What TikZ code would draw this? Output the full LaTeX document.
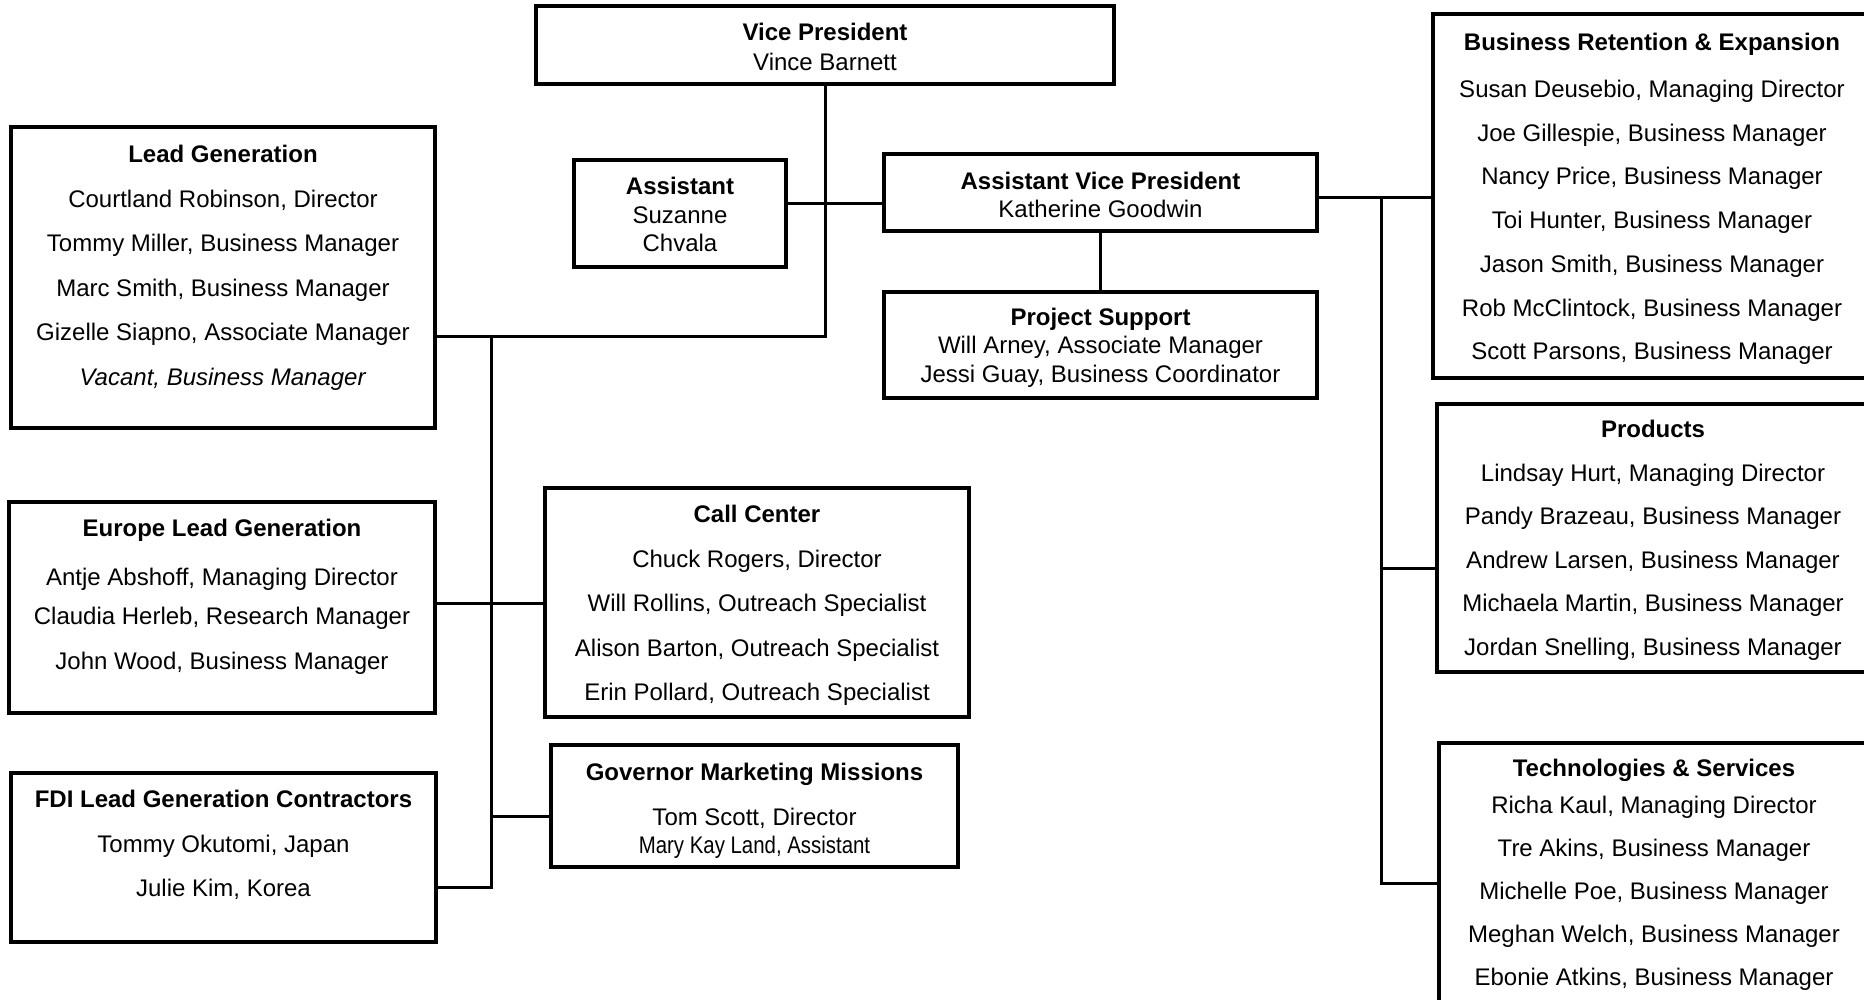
\documentclass[tikz,border=0pt]{standalone}
\usepackage{fontspec}
\setmainfont{Liberation Sans}
\usepackage{graphicx}

\begin{document}
        \begin{tikzpicture}[x=1pt, y=-1pt,
            box/.style={draw, line width=3.3pt, inner sep=0pt, align=center, font=\fontsize{24}{44.5}\selectfont},
            topbox/.style={box, font=\fontsize{24}{28.5}\selectfont},
            wire/.style={line width=3pt}]
            \useasboundingbox (0,0) rectangle (1864,1000);
            \clip (0,0) rectangle (1864,1000);
            \node[topbox, font=\fontsize{24}{30}\selectfont, minimum width=578pt, minimum height=78pt] (vp) at (825,45) {\rule{0pt}{22pt}\textbf{Vice President}\\Vince Barnett};
            \node[topbox, minimum width=212pt, minimum height=107pt] (asst) at (680,213.5) {\rule{0pt}{20pt}\textbf{Assistant}\\Suzanne\\Chvala};
            \node[topbox, minimum width=433pt, minimum height=77pt] (avp) at (1100.5,192.5) {\rule{0pt}{22pt}\textbf{Assistant Vice President}\\Katherine Goodwin};
            \node[topbox, minimum width=433pt, minimum height=106pt] (proj) at (1100.5,345) {\rule{0pt}{22pt}\textbf{Project Support}\\Will Arney, Associate Manager\\Jessi Guay, Business Coordinator};
            \node[box, minimum width=424pt, minimum height=301pt] (lead) at (223,277.5) {\textbf{Lead Generation}\\Courtland Robinson, Director\\Tommy Miller, Business Manager\\Marc Smith, Business Manager\\Gizelle Siapno, Associate Manager\\\textit{Vacant, Business Manager}\rule[-24pt]{0pt}{24pt}};
            \node[box, minimum width=426pt, minimum height=211pt] (euro) at (222,607.5) {\textbf{Europe Lead Generation}\\[4pt]Antje Abshoff, Managing Director\\[-5pt]Claudia Herleb, Research Manager\\John Wood, Business Manager\rule[-26pt]{0pt}{26pt}};
            \node[box, minimum width=425pt, minimum height=169pt] (fdi) at (223.5,857.5) {\textbf{FDI Lead Generation Contractors}\\Tommy Okutomi, Japan\\Julie Kim, Korea\rule[-28pt]{0pt}{28pt}};
            \node[box, minimum width=424pt, minimum height=229pt] (call) at (757,602.5) {\rule{0pt}{23pt}\textbf{Call Center}\\Chuck Rogers, Director\\Will Rollins, Outreach Specialist\\Alison Barton, Outreach Specialist\\Erin Pollard, Outreach Specialist};
            \node[box, minimum width=407pt, minimum height=122pt] (gov) at (754.5,806) {\rule{0pt}{27pt}\textbf{Governor Marketing Missions}\\Tom Scott, Director\\[-16.5pt]\scalebox{0.85}[1]{Mary Kay Land, Assistant}};
            \node[box, font=\fontsize{24}{43.7}\selectfont, minimum width=438pt, minimum height=364pt] (bre) at (1652,196) {\rule{0pt}{23pt}\textbf{Business Retention \& Expansion}\\[3.5pt]Susan Deusebio, Managing Director\\Joe Gillespie, Business Manager\\Nancy Price, Business Manager\\Toi Hunter, Business Manager\\Jason Smith, Business Manager\\Rob McClintock, Business Manager\\Scott Parsons, Business Manager};
            \node[box, font=\fontsize{24}{43.5}\selectfont, minimum width=432pt, minimum height=268pt] (prod) at (1653,538) {\rule{0pt}{22pt}\textbf{Products}\\Lindsay Hurt, Managing Director\\Pandy Brazeau, Business Manager\\Andrew Larsen, Business Manager\\Michaela Martin, Business Manager\\Jordan Snelling, Business Manager};
            \node[box, font=\fontsize{24}{43}\selectfont, minimum width=430pt, minimum height=259pt] (tech) at (1654,872.5) {\rule{0pt}{22pt}\textbf{Technologies \& Services}\\[-6pt]Richa Kaul, Managing Director\\Tre Akins, Business Manager\\Michelle Poe, Business Manager\\Meghan Welch, Business Manager\\Ebonie Atkins, Business Manager};
            \coordinate (hub) at (825,204);
            \coordinate (lefttop) at (491,337);
            \coordinate (leftmid) at (491,603);
            \coordinate (leftgov) at (491,816);
            \coordinate (leftbot) at (491,887);
            \coordinate (righttop) at (1381,198);
            \coordinate (rightprod) at (1381,568);
            \coordinate (rightbot) at (1381,883);
            \draw[wire] (vp.south) |- (lead.east |- lefttop);
            \draw[wire] (asst.east |- hub) -- (avp.west |- hub);
            \draw[wire] (avp.south) -- (proj.north);
            \draw[wire] (lefttop) -- (leftbot) -- (fdi.east |- leftbot);
            \draw[wire] (euro.east |- leftmid) -- (call.west |- leftmid);
            \draw[wire] (leftgov) -- (gov.west |- leftgov);
            \draw[wire] (avp.east |- righttop) -- (bre.west |- righttop);
            \draw[wire] (righttop) -- (rightbot) -- (tech.west |- rightbot);
            \draw[wire] (rightprod) -- (prod.west |- rightprod);
        \end{tikzpicture}
\end{document}
